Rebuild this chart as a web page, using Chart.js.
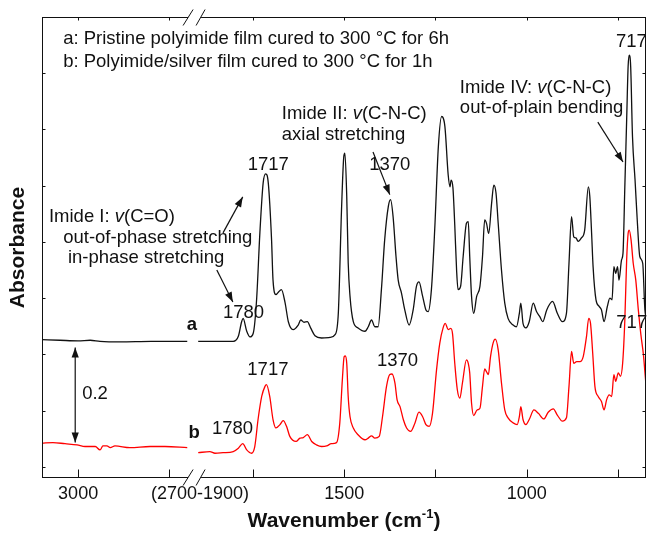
<!DOCTYPE html>
<html>
<head>
<meta charset="utf-8">
<script src="https://cdn.jsdelivr.net/npm/chart.js@4.4.0/dist/chart.umd.min.js"></script>
<style>
  html, body { margin: 0; padding: 0; background: #fff; }
  #wrap { width: 647px; height: 535px; }
</style>
</head>
<body>
<div id="wrap"><canvas id="ftir" width="647" height="535"></canvas></div>
<script>
// --- spectrum a (pristine PI), left piece 3100-2700 and right piece 1900-670 cm-1
const wnLeftA = [3099, 3050, 3000, 2967, 2940, 2885, 2800, 2701];
const absLeftA = [0.226, 0.225, 0.224, 0.225, 0.223, 0.222, 0.223, 0.223];

const wnA = [1900, 1804, 1790, 1781, 1777, 1767, 1758, 1749, 1740, 1731,
  1722, 1715, 1708, 1699, 1695, 1687, 1681, 1672, 1662, 1653,
  1640, 1626, 1619, 1610, 1601, 1592, 1580, 1562, 1539, 1525,
  1516, 1507, 1501, 1498, 1493, 1489, 1484, 1475, 1462, 1443,
  1434, 1425, 1416, 1407, 1398, 1389, 1379, 1373, 1366, 1358,
  1352, 1343, 1334, 1322, 1311, 1302, 1295, 1285, 1276, 1270,
  1261, 1252, 1242, 1233, 1224, 1215, 1210, 1207, 1202, 1197,
  1192, 1188, 1181, 1174, 1165, 1160, 1156, 1151, 1145, 1137,
  1128, 1121, 1115, 1110, 1104, 1096, 1090, 1084, 1078, 1069,
  1060, 1051, 1037, 1028, 1020, 1016, 1010, 1002, 993, 982,
  973, 964, 956, 945, 929, 916, 902, 891, 884, 877,
  871, 865, 859, 850, 841, 831, 827, 822, 818, 810,
  801, 795, 788, 779, 772, 766, 761, 756, 751, 747,
  740, 736, 731, 726, 722, 719, 715, 710, 703, 697,
  690, 682, 676, 670];
const absA = [0.223, 0.223, 0.232, 0.258, 0.264, 0.241, 0.231, 0.238, 0.297, 0.416,
  0.505, 0.521, 0.505, 0.404, 0.332, 0.306, 0.310, 0.315, 0.292, 0.258,
  0.244, 0.252, 0.261, 0.257, 0.258, 0.247, 0.233, 0.229, 0.230, 0.235,
  0.274, 0.463, 0.552, 0.558, 0.481, 0.363, 0.303, 0.258, 0.247, 0.241,
  0.249, 0.261, 0.249, 0.249, 0.315, 0.404, 0.463, 0.475, 0.445, 0.374,
  0.332, 0.309, 0.279, 0.252, 0.279, 0.321, 0.329, 0.303, 0.279, 0.276,
  0.315, 0.421, 0.569, 0.623, 0.605, 0.519, 0.498, 0.510, 0.496, 0.430,
  0.350, 0.315, 0.321, 0.374, 0.433, 0.436, 0.374, 0.303, 0.273, 0.303,
  0.321, 0.374, 0.439, 0.433, 0.415, 0.469, 0.501, 0.487, 0.433, 0.350,
  0.291, 0.264, 0.252, 0.249, 0.273, 0.291, 0.255, 0.247, 0.258, 0.291,
  0.276, 0.267, 0.258, 0.279, 0.294, 0.273, 0.258, 0.273, 0.362, 0.445,
  0.409, 0.407, 0.401, 0.407, 0.421, 0.498, 0.481, 0.415, 0.356, 0.297,
  0.285, 0.279, 0.258, 0.285, 0.300, 0.297, 0.356, 0.344, 0.356, 0.332,
  0.368, 0.380, 0.498, 0.617, 0.712, 0.732, 0.712, 0.587, 0.510, 0.439,
  0.374, 0.362, 0.279, 0.262];

// --- spectrum b (PI/silver)
const wnLeftB = [3099, 3069, 3036, 3003, 2981, 2953, 2940, 2932, 2921, 2912, 2899, 2858, 2803, 2762, 2701];
const absLeftB = [0.042, 0.043, 0.041, 0.039, 0.036, 0.036, 0.030, 0.037, 0.037, 0.034, 0.037, 0.034, 0.036, 0.036, 0.034];

const wnB = [1900, 1868, 1854, 1832, 1804, 1790, 1778, 1767, 1754, 1745,
  1736, 1726, 1717, 1713, 1704, 1695, 1687, 1676, 1667, 1658,
  1649, 1632, 1621, 1612, 1601, 1589, 1576, 1562, 1548, 1535,
  1521, 1512, 1505, 1500, 1497, 1493, 1489, 1484, 1475, 1462,
  1443, 1434, 1425, 1416, 1404, 1395, 1384, 1375, 1369, 1361,
  1355, 1347, 1338, 1329, 1318, 1306, 1295, 1285, 1276, 1267,
  1258, 1247, 1238, 1229, 1223, 1215, 1208, 1203, 1197, 1190,
  1183, 1176, 1165, 1160, 1156, 1151, 1145, 1136, 1128, 1121,
  1115, 1110, 1105, 1099, 1092, 1086, 1078, 1069, 1060, 1051,
  1037, 1026, 1020, 1016, 1010, 1002, 993, 980, 968, 953,
  941, 927, 916, 902, 891, 884, 877, 871, 863, 854,
  845, 836, 830, 825, 819, 813, 804, 795, 788, 781,
  774, 767, 761, 756, 749, 743, 737, 731, 726, 722,
  719, 714, 708, 701, 694, 687, 680, 673, 668];
const absB = [0.025, 0.027, 0.024, 0.025, 0.027, 0.033, 0.041, 0.030, 0.024, 0.036,
  0.084, 0.125, 0.143, 0.146, 0.125, 0.084, 0.069, 0.075, 0.082, 0.072,
  0.054, 0.045, 0.051, 0.052, 0.057, 0.045, 0.039, 0.036, 0.037, 0.041,
  0.043, 0.078, 0.155, 0.196, 0.197, 0.184, 0.125, 0.089, 0.069, 0.057,
  0.048, 0.051, 0.055, 0.051, 0.054, 0.089, 0.143, 0.164, 0.165, 0.149,
  0.119, 0.107, 0.084, 0.069, 0.063, 0.078, 0.097, 0.089, 0.075, 0.072,
  0.095, 0.172, 0.220, 0.247, 0.255, 0.244, 0.246, 0.236, 0.184, 0.137,
  0.122, 0.149, 0.190, 0.184, 0.167, 0.113, 0.091, 0.101, 0.104, 0.143,
  0.174, 0.169, 0.164, 0.196, 0.220, 0.227, 0.208, 0.149, 0.101, 0.087,
  0.078, 0.075, 0.089, 0.107, 0.084, 0.075, 0.084, 0.101, 0.095, 0.085,
  0.097, 0.103, 0.092, 0.081, 0.087, 0.143, 0.205, 0.184, 0.187, 0.187,
  0.196, 0.232, 0.264, 0.255, 0.202, 0.143, 0.125, 0.116, 0.101, 0.119,
  0.128, 0.125, 0.164, 0.152, 0.167, 0.161, 0.184, 0.261, 0.368, 0.415,
  0.421, 0.404, 0.362, 0.332, 0.279, 0.235, 0.199, 0.146, 0.120];

// axis ticks (wavenumbers) and labels
const xTickMarks = [3000, 2750, 1750, 1500, 1250, 1000, 750];
const xTickLabels = ['3000', '(2700-1900)', '1500', '1000'];
const xTickLabelAt = [3000, 1895, 1500, 1000];
const yTickMarks = [0, 0.1, 0.2, 0.3, 0.4, 0.5, 0.6, 0.7];

// the 2700-1900 cm-1 window is cut out of the axis
const BREAK_SHIFT = 771;
const BREAK_AT = 1914;
function toAxis(w) { return w > 2000 ? w - BREAK_SHIFT : w; }

function pts(wn, ab) {
  return wn.map((w, i) => ({ x: toAxis(w), y: ab[i] }));
}

const INK = '#111';
const RED = '#ff0000';
const FONT = '"Liberation Sans", Arial, Helvetica, sans-serif';
const N = '18.5px ' + FONT;
const I = 'italic 18.5px ' + FONT;
const B = 'bold 18.5px ' + FONT;

// annotation text, anchored in (wavenumber, absorbance)
const notes = [
  { w: 3041, v: 0.761, parts: [['a: Pristine polyimide film cured to 300 \u00B0C for 6h', N]] },
  { w: 3041, v: 0.720, parts: [['b: Polyimide/silver film cured to 300 \u00B0C for 1h', N]] },
  { w: 3080, v: 0.444, parts: [['Imide I: ', N], ['v', I], ['(C=O)', N]] },
  { w: 3041, v: 0.407, parts: [['out-of-phase stretching', N]] },
  { w: 3028, v: 0.372, parts: [['in-phase stretching', N]] },
  { w: 1671, v: 0.628, parts: [['Imide II: ', N], ['v', I], ['(C-N-C)', N]] },
  { w: 1671, v: 0.590, parts: [['axial stretching', N]] },
  { w: 1183, v: 0.674, parts: [['Imide IV: ', N], ['v', I], ['(C-N-C)', N]] },
  { w: 1183, v: 0.638, parts: [['out-of-plain bending', N]] },
  { w: 1708, v: 0.537, parts: [['1717', N]], center: true },
  { w: 1375, v: 0.537, parts: [['1370', N]], center: true },
  { w: 1776, v: 0.274, parts: [['1780', N]], center: true },
  { w: 713, v: 0.756, parts: [['717', N]], center: true },
  { w: 1917, v: 0.252, parts: [['a', B]], center: true },
  { w: 1709, v: 0.172, parts: [['1717', N]], center: true },
  { w: 1354, v: 0.188, parts: [['1370', N]], center: true },
  { w: 1806, v: 0.068, parts: [['1780', N]], center: true },
  { w: 712, v: 0.256, parts: [['717', N]], center: true },
  { w: 1911, v: 0.060, parts: [['b', B]], center: true },
  { w: 2989, v: 0.130, parts: [['0.2', N]] }
];

// arrows [fromW, fromV, toW, toV]
const arrows = [
  [1832, 0.416, 1778, 0.480],
  [1849, 0.350, 1805, 0.293],
  [1421, 0.560, 1375, 0.484],
  [805, 0.613, 736, 0.542]
];
const scaleBar = [3008, 0.212, 0.043];

function drawRich(ctx, x, y, parts, center) {
  let total = 0;
  parts.forEach(p => { ctx.font = p[1]; total += ctx.measureText(p[0]).width; });
  let cx = center ? x - total / 2 : x;
  parts.forEach(p => {
    ctx.font = p[1];
    ctx.fillText(p[0], cx, y);
    cx += ctx.measureText(p[0]).width;
  });
}

function arrowHead(ctx, x0, y0, x1, y1) {
  const ang = Math.atan2(y1 - y0, x1 - x0);
  const len = 10, half = 3.6;
  ctx.beginPath();
  ctx.moveTo(x1, y1);
  ctx.lineTo(x1 - len * Math.cos(ang) + half * Math.sin(ang), y1 - len * Math.sin(ang) - half * Math.cos(ang));
  ctx.lineTo(x1 - len * Math.cos(ang) - half * Math.sin(ang), y1 - len * Math.sin(ang) + half * Math.cos(ang));
  ctx.closePath();
  ctx.fill();
}

function drawArrow(ctx, x0, y0, x1, y1) {
  ctx.beginPath();
  ctx.moveTo(x0, y0);
  ctx.lineTo(x1, y1);
  ctx.stroke();
  arrowHead(ctx, x0, y0, x1, y1);
}

/**
 * Frame, inward ticks, axis break, labels and annotations.
 */
const decor = {
  id: 'decor',
  afterDatasetsDraw(chart) {
    const { ctx, chartArea: a, scales } = chart;
    const px = w => scales.x.getPixelForValue(toAxis(w));
    const py = v => scales.y.getPixelForValue(v);
    const L = Math.round(a.left) + 0.5, R = Math.round(a.right) - 0.5;
    const T = Math.round(a.top) + 0.5, Bt = Math.round(a.bottom) - 0.5;

    ctx.save();
    ctx.strokeStyle = INK;
    ctx.fillStyle = INK;
    ctx.lineWidth = 1;
    ctx.strokeRect(L, T, R - L, Bt - T);

    // ticks
    ctx.beginPath();
    xTickMarks.forEach(w => {
      const x = Math.round(px(w)) + 0.5;
      ctx.moveTo(x, Bt); ctx.lineTo(x, Bt - 8);
      ctx.moveTo(x, T); ctx.lineTo(x, T + 3);
    });
    yTickMarks.forEach(v => {
      const y = Math.round(py(v)) + 0.5;
      ctx.moveTo(L, y); ctx.lineTo(L + 3, y);
      ctx.moveTo(R, y); ctx.lineTo(R - 3, y);
    });
    ctx.stroke();

    // axis break marks
    const cx = scales.x.getPixelForValue(BREAK_AT);
    [Bt, T].forEach(y0 => {
      ctx.fillStyle = '#fff';
      ctx.fillRect(cx - 5, y0 - 2, 13, 4);
      ctx.beginPath();
      ctx.moveTo(cx - 10, y0 + 8); ctx.lineTo(cx, y0 - 8);
      ctx.moveTo(cx + 3, y0 + 8); ctx.lineTo(cx + 12, y0 - 8);
      ctx.stroke();
    });
    ctx.fillStyle = INK;

    // tick labels
    ctx.textBaseline = 'middle';
    ctx.textAlign = 'left';
    xTickLabels.forEach((t, i) => {
      drawRich(ctx, px(xTickLabelAt[i]), a.bottom + 16, [[t, '18px ' + FONT]], true);
    });

    // axis titles
    const big = 'bold 21px ' + FONT;
    const sup = 'bold 13px ' + FONT;
    ctx.font = big;
    const w1 = ctx.measureText('Wavenumber (cm').width;
    const w3 = ctx.measureText(')').width;
    ctx.font = sup;
    const w2 = ctx.measureText('-1').width;
    let tx = (a.left + a.right) / 2 - (w1 + w2 + w3) / 2;
    const ty = a.bottom + 43;
    ctx.font = big; ctx.fillText('Wavenumber (cm', tx, ty); tx += w1;
    ctx.font = sup; ctx.fillText('-1', tx, ty - 7); tx += w2;
    ctx.font = big; ctx.fillText(')', tx, ty);

    ctx.save();
    ctx.translate(18, (a.top + a.bottom) / 2);
    ctx.rotate(-Math.PI / 2);
    ctx.font = big;
    ctx.textAlign = 'center';
    ctx.fillText('Absorbance', 0, 0);
    ctx.restore();

    // annotations
    notes.forEach(n => drawRich(ctx, px(n.w), py(n.v), n.parts, n.center));
    ctx.lineWidth = 1.2;
    arrows.forEach(r => drawArrow(ctx, px(r[0]), py(r[1]), px(r[2]), py(r[3])));

    // 0.2 scale bar
    const sx = px(scaleBar[0]), sy0 = py(scaleBar[1]), sy1 = py(scaleBar[2]);
    drawArrow(ctx, sx, (sy0 + sy1) / 2, sx, sy0);
    drawArrow(ctx, sx, (sy0 + sy1) / 2, sx, sy1);
    ctx.restore();
  }
};

function line(data, color) {
  return {
    data: data,
    borderColor: color,
    borderWidth: 1.3,
    pointRadius: 0,
    fill: false,
    cubicInterpolationMode: 'monotone'
  };
}

new Chart(document.getElementById('ftir'), {
  type: 'line',
  data: {
    datasets: [
      line(pts(wnLeftA, absLeftA), INK),
      line(pts(wnA, absA), INK),
      line(pts(wnLeftB, absLeftB), RED),
      line(pts(wnB, absB), RED)
    ]
  },
  options: {
    responsive: false,
    animation: false,
    devicePixelRatio: 1,
    layout: { padding: { left: 42, right: 1, top: 17, bottom: 57 } },
    plugins: { legend: { display: false }, tooltip: { enabled: false } },
    scales: {
      x: { type: 'linear', reverse: true, min: 673, max: 2328, display: false },
      y: { type: 'linear', min: -0.02, max: 0.8, display: false }
    }
  },
  plugins: [decor]
});
</script>
</body>
</html>
